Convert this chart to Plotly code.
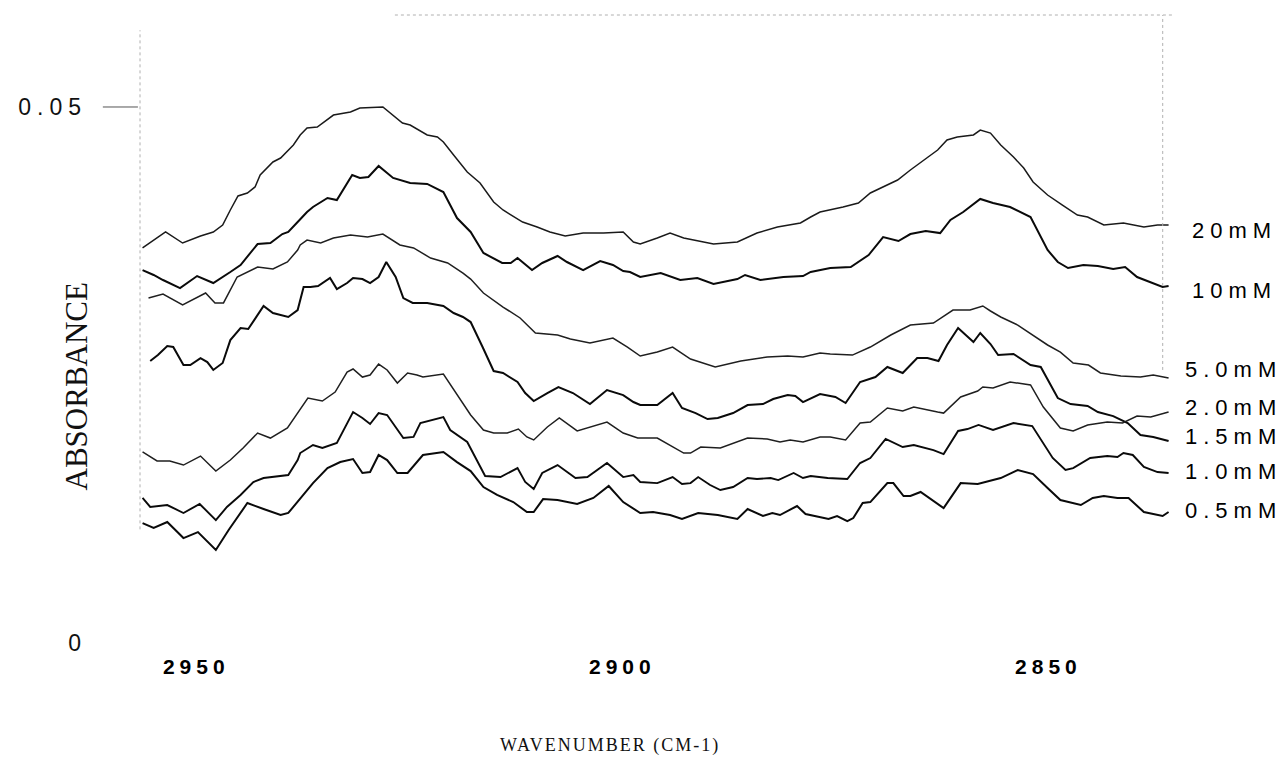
import plotly.graph_objects as go

# ---------------- data (wavenumber cm-1, absorbance) ----------------
wn_20 = [2956.3,2953.6,2951.6,2949.5,2948.0,2946.9,2946.0,2945.1,2944.0,2943.1,2942.5,2941.0,2940.1,2938.6,2937.8,2937.0,2935.8,2933.9,2931.9,2930.8,2928.1,2927.2,2925.8,2924.9,2922.9,2921.7,2921.0,2919.8,2918.2,2916.7,2915.1,2914.0,2911.7,2910.0,2908.5,2906.7,2904.6,2902.2,2899.9,2898.7,2897.9,2895.9,2894.4,2892.8,2891.2,2889.3,2886.5,2884.2,2881.8,2879.1,2877.9,2876.8,2874.1,2872.3,2870.9,2869.7,2867.7,2866.2,2864.2,2863.0,2861.9,2860.7,2858.8,2858.0,2856.8,2855.6,2854.1,2852.9,2851.8,2850.1,2848.4,2846.6,2845.4,2843.5,2841.2,2838.8,2837.2,2835.9]
ab_20 = [0.03685,0.03834,0.03731,0.03796,0.03834,0.03899,0.04039,0.04170,0.04198,0.04254,0.04366,0.04487,0.04524,0.04645,0.04739,0.04804,0.04813,0.04925,0.04953,0.04990,0.05000,0.04944,0.04851,0.04832,0.04739,0.04720,0.04673,0.04552,0.04393,0.04291,0.04114,0.04039,0.03927,0.03880,0.03834,0.03796,0.03824,0.03824,0.03834,0.03741,0.03722,0.03778,0.03824,0.03778,0.03750,0.03722,0.03741,0.03824,0.03880,0.03918,0.03974,0.04020,0.04067,0.04104,0.04198,0.04244,0.04319,0.04412,0.04524,0.04599,0.04692,0.04720,0.04739,0.04785,0.04757,0.04645,0.04533,0.04431,0.04300,0.04179,0.04086,0.03992,0.03974,0.03899,0.03918,0.03880,0.03899,0.03899]

wn_10 = [2956.3,2955.0,2953.9,2951.9,2949.9,2948.0,2946.0,2944.8,2942.8,2941.3,2939.9,2939.2,2938.1,2937.0,2936.3,2934.6,2933.5,2931.7,2930.8,2929.8,2928.6,2926.9,2924.9,2922.9,2921.0,2919.4,2917.8,2916.3,2914.1,2913.1,2912.3,2910.6,2909.4,2907.6,2906.5,2904.6,2902.6,2901.1,2899.9,2899.1,2897.9,2895.5,2893.2,2891.2,2889.3,2886.5,2885.6,2883.8,2881.1,2878.8,2877.9,2875.6,2873.2,2871.1,2869.4,2867.6,2866.2,2864.4,2862.7,2861.5,2860.0,2858.0,2856.5,2854.5,2852.1,2850.1,2848.9,2847.7,2845.9,2844.2,2842.4,2841.0,2839.6,2838.0,2836.6,2835.9]
ab_10 = [0.03479,0.03433,0.03386,0.03311,0.03423,0.03358,0.03461,0.03526,0.03722,0.03731,0.03815,0.03834,0.03927,0.04020,0.04067,0.04151,0.04132,0.04366,0.04338,0.04347,0.04450,0.04338,0.04291,0.04282,0.04207,0.03964,0.03834,0.03638,0.03545,0.03545,0.03591,0.03479,0.03545,0.03610,0.03554,0.03479,0.03563,0.03526,0.03470,0.03461,0.03414,0.03451,0.03386,0.03405,0.03349,0.03395,0.03433,0.03386,0.03414,0.03423,0.03461,0.03498,0.03507,0.03619,0.03787,0.03750,0.03815,0.03843,0.03824,0.03946,0.04020,0.04142,0.04104,0.04067,0.03974,0.03666,0.03554,0.03498,0.03526,0.03517,0.03489,0.03507,0.03414,0.03367,0.03321,0.03330]

wn_5 = [2955.6,2953.9,2951.6,2948.9,2947.8,2946.8,2945.2,2942.8,2941.0,2939.3,2938.1,2937.8,2937.0,2935.4,2933.9,2931.9,2929.9,2928.1,2926.1,2924.5,2922.5,2920.5,2918.7,2917.8,2916.3,2914.0,2912.0,2910.2,2907.6,2906.1,2903.8,2901.1,2899.4,2897.9,2895.9,2894.1,2892.0,2889.1,2886.1,2883.0,2880.6,2878.8,2876.8,2875.6,2873.0,2870.9,2868.5,2866.2,2863.5,2861.2,2859.2,2857.7,2856.8,2855.6,2853.6,2851.8,2850.1,2848.6,2847.1,2845.3,2843.9,2841.5,2839.2,2837.7,2835.9]
ab_5 = [0.03218,0.03255,0.03153,0.03265,0.03172,0.03172,0.03414,0.03507,0.03489,0.03554,0.03666,0.03713,0.03759,0.03731,0.03778,0.03806,0.03787,0.03815,0.03713,0.03685,0.03591,0.03545,0.03451,0.03395,0.03265,0.03134,0.03032,0.02892,0.02873,0.02836,0.02798,0.02845,0.02761,0.02677,0.02714,0.02761,0.02649,0.02575,0.02630,0.02668,0.02677,0.02668,0.02705,0.02696,0.02686,0.02761,0.02873,0.02966,0.02985,0.03106,0.03106,0.03144,0.03097,0.03041,0.02966,0.02873,0.02780,0.02714,0.02612,0.02593,0.02519,0.02491,0.02481,0.02500,0.02472]

wn_2 = [2955.4,2954.5,2953.4,2952.7,2951.5,2950.7,2949.5,2948.7,2948.0,2946.9,2946.0,2944.8,2943.9,2942.1,2941.0,2939.2,2938.1,2937.4,2936.6,2935.7,2934.3,2933.5,2932.3,2931.6,2930.5,2929.6,2928.6,2927.7,2926.6,2925.7,2924.6,2922.9,2921.0,2919.8,2918.7,2917.8,2916.4,2915.1,2914.0,2912.3,2911.4,2910.4,2908.8,2907.5,2905.8,2903.8,2901.8,2899.9,2898.7,2897.9,2895.9,2894.1,2893.0,2891.4,2890.0,2888.8,2887.0,2885.3,2883.5,2882.3,2880.6,2879.7,2878.8,2876.8,2875.0,2873.8,2872.1,2870.3,2868.9,2867.1,2865.4,2864.2,2862.9,2861.9,2860.6,2859.5,2858.8,2858.0,2856.8,2855.9,2854.1,2852.1,2850.9,2848.9,2847.4,2845.4,2844.2,2842.4,2840.7,2839.2,2837.7,2835.9]
ab_2 = [0.02630,0.02686,0.02770,0.02761,0.02593,0.02593,0.02658,0.02621,0.02547,0.02612,0.02826,0.02938,0.02929,0.03144,0.03078,0.03041,0.03106,0.03321,0.03321,0.03330,0.03405,0.03302,0.03358,0.03405,0.03395,0.03358,0.03414,0.03554,0.03414,0.03218,0.03172,0.03172,0.03144,0.03078,0.03041,0.02994,0.02761,0.02537,0.02519,0.02435,0.02332,0.02257,0.02332,0.02388,0.02332,0.02229,0.02360,0.02313,0.02248,0.02220,0.02220,0.02332,0.02192,0.02145,0.02089,0.02099,0.02145,0.02220,0.02229,0.02276,0.02313,0.02304,0.02248,0.02323,0.02295,0.02239,0.02435,0.02481,0.02575,0.02519,0.02658,0.02658,0.02630,0.02780,0.02938,0.02854,0.02808,0.02892,0.02789,0.02686,0.02696,0.02593,0.02575,0.02285,0.02229,0.02211,0.02155,0.02117,0.02052,0.01940,0.01922,0.01884]

wn_15 = [2956.3,2954.6,2953.1,2951.5,2949.5,2947.7,2946.0,2944.5,2942.8,2941.3,2939.3,2938.1,2936.9,2935.2,2933.7,2932.3,2931.6,2930.5,2929.6,2928.6,2927.6,2926.4,2925.2,2924.1,2923.4,2921.0,2919.4,2917.8,2916.3,2915.1,2913.5,2912.2,2911.2,2910.4,2908.8,2907.4,2905.3,2903.8,2901.8,2899.9,2898.2,2895.9,2894.4,2892.8,2892.0,2890.8,2888.5,2885.3,2883.0,2881.5,2880.3,2878.8,2876.8,2875.6,2873.8,2872.1,2870.9,2868.9,2867.1,2865.8,2863.0,2862.3,2860.3,2858.3,2857.7,2856.5,2854.5,2852.1,2850.6,2848.6,2847.1,2845.4,2843.1,2841.3,2839.6,2838.0,2835.9]
ab_15 = [0.01782,0.01698,0.01698,0.01660,0.01744,0.01604,0.01707,0.01819,0.01959,0.01912,0.02006,0.02145,0.02285,0.02257,0.02341,0.02528,0.02556,0.02481,0.02500,0.02602,0.02547,0.02425,0.02519,0.02500,0.02481,0.02509,0.02313,0.02127,0.01987,0.01959,0.01959,0.01996,0.01922,0.01894,0.02015,0.02099,0.01978,0.02015,0.02061,0.01959,0.01912,0.01912,0.01847,0.01772,0.01772,0.01828,0.01819,0.01912,0.01903,0.01875,0.01894,0.01875,0.01922,0.01922,0.01894,0.02052,0.02061,0.02192,0.02164,0.02201,0.02155,0.02145,0.02295,0.02351,0.02388,0.02379,0.02435,0.02407,0.02201,0.02006,0.01978,0.02034,0.02061,0.02052,0.02117,0.02108,0.02155]

wn_1 = [2956.3,2955.4,2953.4,2951.5,2949.6,2947.7,2946.4,2944.8,2943.3,2942.1,2939.2,2938.1,2937.8,2936.3,2935.2,2933.5,2931.6,2930.5,2929.6,2928.6,2927.6,2925.7,2924.5,2923.7,2921.0,2920.2,2918.2,2916.1,2914.3,2912.3,2911.4,2910.4,2909.4,2907.6,2905.5,2904.1,2901.8,2899.9,2898.7,2897.9,2895.9,2894.1,2893.0,2892.0,2891.1,2889.7,2888.5,2887.0,2885.3,2884.2,2882.6,2881.7,2879.9,2878.8,2877.9,2875.9,2873.6,2872.1,2870.9,2869.1,2867.1,2865.8,2863.5,2862.3,2860.6,2859.5,2858.2,2856.5,2854.1,2851.9,2849.5,2848.0,2847.1,2845.1,2843.1,2841.9,2841.2,2840.1,2838.8,2837.2,2835.9]
ab_1 = [0.01353,0.01269,0.01287,0.01213,0.01297,0.01147,0.01269,0.01381,0.01502,0.01539,0.01567,0.01707,0.01772,0.01847,0.01819,0.01866,0.02155,0.02099,0.02043,0.02145,0.02127,0.01912,0.01922,0.02052,0.02108,0.01987,0.01875,0.01558,0.01548,0.01632,0.01502,0.01437,0.01586,0.01660,0.01539,0.01548,0.01679,0.01548,0.01567,0.01502,0.01492,0.01548,0.01483,0.01492,0.01548,0.01474,0.01427,0.01455,0.01539,0.01530,0.01539,0.01520,0.01586,0.01539,0.01558,0.01539,0.01530,0.01679,0.01726,0.01903,0.01828,0.01847,0.01800,0.01763,0.01978,0.01996,0.02034,0.01987,0.02052,0.02024,0.01726,0.01614,0.01632,0.01726,0.01744,0.01735,0.01772,0.01754,0.01642,0.01595,0.01586]

wn_05 = [2956.3,2955.0,2953.4,2951.5,2949.8,2947.7,2946.2,2944.0,2942.1,2940.1,2939.2,2937.8,2936.3,2934.6,2933.1,2931.6,2930.5,2929.6,2928.6,2927.6,2926.4,2925.2,2923.4,2921.0,2919.4,2917.8,2916.3,2914.7,2912.8,2911.2,2910.4,2909.3,2907.6,2905.3,2903.4,2901.6,2899.9,2897.9,2896.4,2894.4,2893.0,2891.1,2888.8,2886.5,2885.3,2883.5,2882.4,2881.5,2879.5,2878.5,2877.9,2875.8,2874.8,2873.6,2872.9,2871.8,2870.9,2868.9,2868.2,2867.0,2866.2,2865.0,2862.3,2860.3,2858.3,2855.6,2853.6,2851.8,2850.1,2848.6,2846.2,2844.8,2843.5,2841.9,2840.6,2838.8,2836.6,2835.9]
ab_05 = [0.01119,0.01073,0.01129,0.00979,0.01035,0.00868,0.01054,0.01306,0.01250,0.01194,0.01213,0.01353,0.01492,0.01632,0.01688,0.01716,0.01586,0.01595,0.01754,0.01707,0.01586,0.01586,0.01754,0.01782,0.01688,0.01604,0.01455,0.01381,0.01315,0.01222,0.01222,0.01343,0.01334,0.01297,0.01353,0.01465,0.01315,0.01213,0.01222,0.01194,0.01157,0.01213,0.01194,0.01157,0.01250,0.01185,0.01213,0.01194,0.01278,0.01203,0.01194,0.01157,0.01185,0.01138,0.01166,0.01306,0.01315,0.01492,0.01492,0.01371,0.01371,0.01409,0.01259,0.01492,0.01483,0.01539,0.01614,0.01576,0.01446,0.01334,0.01287,0.01353,0.01371,0.01353,0.01353,0.01222,0.01185,0.01222]

series_names = ["20mM", "10mM", "5.0mM", "2.0mM", "1.5mM", "1.0mM", "0.5mM"]
series_x = [wn_20, wn_10, wn_5, wn_2, wn_15, wn_1, wn_05]
series_y = [ab_20, ab_10, ab_5, ab_2, ab_15, ab_1, ab_05]

# label text placed at the right end of the plot (absorbance level of each label)
label_text = ["20mM", "10mM", "5.0mM", "2.0mM", "1.5mM", "1.0mM", "0.5mM"]
label_level = [0.0385, 0.0329, 0.0255, 0.0220, 0.0193, 0.0160, 0.0124]

x_tick_vals = [2950, 2900, 2850]
x_tick_text = ["2950", "2900", "2850"]
y_tick_vals = [0, 0.05]
y_tick_text = ["0", "0.05"]

# ---------------- styles ----------------
line_widths = [1.5, 2.0, 1.5, 2.0, 1.5, 1.9, 2.0]
line_colors = ["#1a1a1a", "#0a0a0a", "#1f1f1f", "#0a0a0a", "#1f1f1f", "#0a0a0a", "#0a0a0a"]
label_x = [1.0174, 1.0174, 1.0107, 1.0107, 1.0107, 1.0107, 1.0107]

SANS = "Liberation Sans, Arial, sans-serif"
SERIF = "Liberation Serif, Times New Roman, serif"

fig = go.Figure()
for name, xs, ys, w, c in zip(series_names, series_x, series_y, line_widths, line_colors):
    fig.add_trace(go.Scatter(x=xs, y=ys, mode="lines", name=name,
                             line=dict(color=c, width=w), showlegend=False,
                             hoverinfo="skip"))

annotations = []
for t, lv, lx in zip(label_text, label_level, label_x):
    annotations.append(dict(text=t, x=lx, xref="paper", y=lv, yref="y",
                            xanchor="left", yanchor="middle", align="left",
                            showarrow=False,
                            font=dict(family=SANS, size=22, color="#000000")))
annotations.append(dict(text="WAVENUMBER (CM-1)", x=0.455, xref="paper",
                        y=-0.151, yref="paper", xanchor="center", yanchor="middle",
                        showarrow=False,
                        font=dict(family=SERIF, size=18, color="#111111")))
annotations.append(dict(text="ABSORBANCE", x=-0.062, xref="paper",
                        y=0.415, yref="paper", xanchor="center", yanchor="middle",
                        textangle=-90, showarrow=False,
                        font=dict(family=SERIF, size=31, color="#111111")))

shapes = [
    # faint dotted frame of the scanned plot
    dict(type="line", xref="paper", yref="paper", x0=0.0, x1=0.0, y0=0.19, y1=0.976,
         line=dict(color="#b0b0b0", width=1, dash="dot")),
    dict(type="line", xref="paper", yref="paper", x0=0.247, x1=1.0, y0=1.0, y1=1.0,
         line=dict(color="#b0b0b0", width=1, dash="dot")),
    dict(type="line", xref="paper", yref="paper", x0=0.991, x1=0.991, y0=0.441, y1=1.0,
         line=dict(color="#b0b0b0", width=1, dash="dot")),
    # tick mark at 0.05
    dict(type="line", xref="paper", yref="y", x0=-0.036, x1=-0.002, y0=0.05, y1=0.05,
         line=dict(color="#555555", width=1)),
]

fig.update_layout(
    width=1286, height=757,
    margin=dict(l=140, r=114, t=15, b=107),
    paper_bgcolor="white", plot_bgcolor="white",
    xaxis=dict(range=[2956.6, 2835.5], tickvals=x_tick_vals, ticktext=x_tick_text,
               showgrid=False, zeroline=False, showline=False, ticks="",
               ticklabelstandoff=2,
               tickfont=dict(family=SANS, size=21, color="#000000", weight="bold")),
    yaxis=dict(range=[-0.00065, 0.05858], tickvals=y_tick_vals, ticktext=y_tick_text,
               showgrid=False, zeroline=False, showline=False, ticks="",
               ticklabelstandoff=52,
               tickfont=dict(family=SANS, size=23, color="#111111")),
    annotations=annotations,
    shapes=shapes,
)

post_js = """
document.body.style.margin='0';
var st=document.createElement('style');
st.textContent='.xtick text{letter-spacing:5px}.ytick text{letter-spacing:6px}'+
'.annotation .annotation-text{letter-spacing:6px}'+
'.annotation[data-index="7"] .annotation-text{letter-spacing:2px}'+
'.annotation[data-index="8"] .annotation-text{letter-spacing:0px}';
document.head.appendChild(st);
"""

fig.write_html("out.html", config={"displayModeBar": False}, post_script=post_js)
